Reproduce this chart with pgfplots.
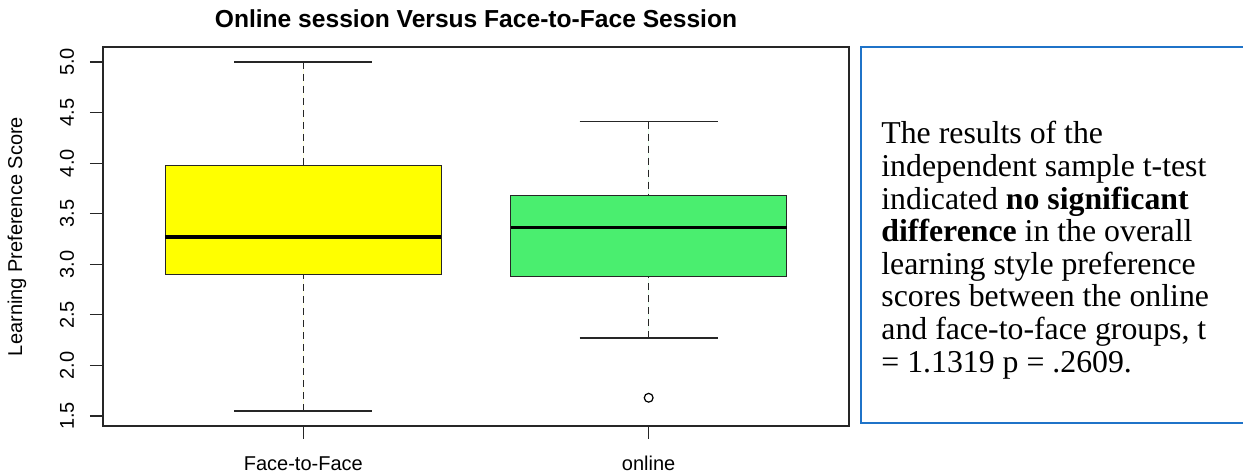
\documentclass[border=0pt]{standalone}
\usepackage{fontspec}
\setmainfont{Liberation Serif}
\setsansfont{Liberation Sans}
\usepackage{pgfplots}
\pgfplotsset{compat=1.18}
\usepgfplotslibrary{statistics}
\definecolor{boxyellow}{RGB}{255,255,0}
\definecolor{boxgreen}{RGB}{74,238,111}
\definecolor{frameblue}{RGB}{31,115,200}
\begin{document}
\begin{tikzpicture}[x=1pt,y=1pt]
\useasboundingbox (0,0) rectangle (621.5,237.5);
\begin{axis}[
  at={(51.5pt,24.5pt)}, anchor=south west,
  scale only axis, width=373pt, height=189.5pt,
  xmin=0.42, xmax=2.58, ymin=1.401, ymax=5.148,
  font=\sffamily\fontsize{10}{12}\selectfont,
  /pgf/number format/assume math mode=true,
  axis line style={black!85, line width=0.6pt},
  tick style={black!85, line width=0.6pt},
  tick align=outside, major tick length=6.5pt,
  xtick pos=bottom, ytick pos=left,
  xtick={1,2}, xticklabels={Face-to-Face, online},
  ytick={1.5,2,2.5,3,3.5,4,4.5,5},
  yticklabel style={xshift=-8pt, rotate=90, anchor=base, /pgf/number format/.cd, fixed, fixed zerofill, precision=1},
  xticklabel style={anchor=base, yshift=-16pt},
  title={\bfseries\fontsize{12.3}{14}\selectfont Online session Versus Face-to-Face Session},
  title style={at={(axis description cs:0.5,1.0185)}, anchor=base},
  ylabel={Learning Preference Score},
  ylabel style={at={(axis description cs:-0.1153,0.5)}, anchor=center},
  boxplot/draw direction=y,
  boxplot/draw/lower whisker/.code={
    \draw[dash pattern=on 3.5pt off 2.5pt, line width=0.5pt] (boxplot cs:\pgfplotsboxplotvalue{lower whisker}) -- (boxplot cs:\pgfplotsboxplotvalue{lower quartile});
    \draw[solid, line width=0.6pt] (boxplot whisker cs:\pgfplotsboxplotvalue{lower whisker},0) -- (boxplot whisker cs:\pgfplotsboxplotvalue{lower whisker},1);
  },
  boxplot/draw/upper whisker/.code={
    \draw[dash pattern=on 3.5pt off 2.5pt, line width=0.5pt] (boxplot cs:\pgfplotsboxplotvalue{upper whisker}) -- (boxplot cs:\pgfplotsboxplotvalue{upper quartile});
    \draw[solid, line width=0.6pt] (boxplot whisker cs:\pgfplotsboxplotvalue{upper whisker},0) -- (boxplot whisker cs:\pgfplotsboxplotvalue{upper whisker},1);
  },
  boxplot/draw/median/.code={
    \draw[solid, line width=1.6pt, black] (boxplot box cs:\pgfplotsboxplotvalue{median},0) -- (boxplot box cs:\pgfplotsboxplotvalue{median},1);
  },
]
\addplot[boxplot prepared={draw position=1, lower whisker=1.55, lower quartile=2.90, median=3.27, upper quartile=3.98, upper whisker=5.0, box extend=0.8, whisker extend=0.4},
  draw=black!85, fill=boxyellow, line width=0.6pt, mark=none] coordinates {};
\addplot[boxplot prepared={draw position=2, lower whisker=2.27, lower quartile=2.88, median=3.365, upper quartile=3.68, upper whisker=4.41, box extend=0.8, whisker extend=0.4},
  draw=black!85, fill=boxgreen, line width=0.6pt, mark=o, mark size=2.2pt, mark options={solid, black, line width=0.6pt}]
  table[row sep=\\, y index=0] {1.68\\};
\end{axis}
\draw[frameblue, line width=1.2pt] (430.5,26) rectangle (640,214);
\node[anchor=north west, inner sep=0pt, align=left, font=\rmfamily\fontsize{15.9}{16.3}\selectfont] at (440.5,176.9)
{The results of the\\ independent sample t-test\\ indicated \textbf{no significant}\\ \textbf{difference} in the overall\\ learning style preference\\ scores between the online\\ and face-to-face groups, t\\ = 1.1319 p = .2609.};
\end{tikzpicture}
\end{document}
